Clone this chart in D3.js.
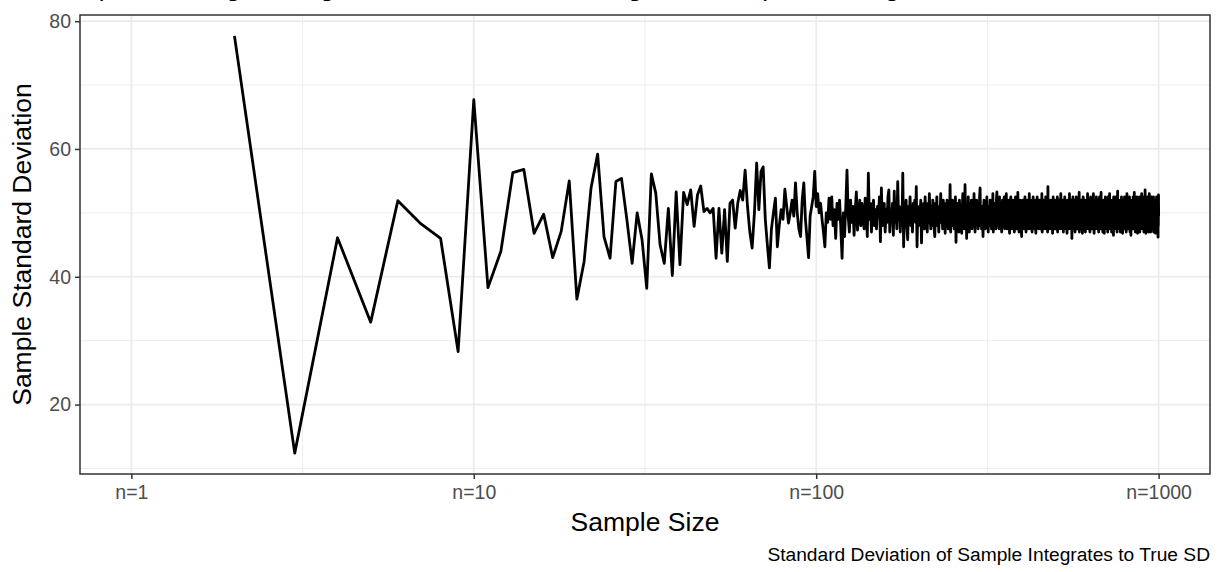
<!DOCTYPE html>
<html>
<head>
<meta charset="utf-8">
<script src="https://cdn.jsdelivr.net/npm/d3@7"></script>
<style>
  html, body { margin: 0; padding: 0; background: #fff; }
  svg { display: block; font-family: "Liberation Sans", Arial, Helvetica, sans-serif; }
</style>
</head>
<body>
<div id="chart"></div>
<script>
// Sample SD for n = 2 .. 1000
const sdValues = [
  77.7, 12.4, 46.1, 32.9, 51.9, 48.3, 46.0, 28.3, 67.7,
  38.3, 44.0, 56.3, 56.8, 46.8, 49.8, 43.0, 47.1, 55.0, 36.5,
  42.4, 53.9, 59.2, 46.3, 42.9, 54.9, 55.4, 48.9, 42.1, 50.0,
  45.8, 38.2, 56.1, 53.1, 45.0, 42.1, 50.7, 40.2, 53.3, 41.9,
  53.2, 51.3, 53.6, 47.9, 52.8, 54.2, 50.2, 50.7, 50.0, 50.7,
  42.9, 50.7, 43.7, 50.5, 42.4, 51.5, 52.0, 47.6, 51.5, 53.5,
  52.0, 56.7, 51.0, 47.0, 44.5, 50.0, 57.8, 50.5, 56.5, 57.2,
  49.0, 45.0, 41.4, 47.5, 50.0, 52.3, 44.7, 48.0, 50.5, 49.0,
  53.7, 51.0, 48.4, 50.0, 52.0, 49.5, 54.7, 50.0, 47.5, 46.3,
  52.0, 54.7, 49.0, 46.0, 43.0, 49.5, 51.0, 52.5, 56.5, 51.0,
  53.0, 50.0, 51.5, 49.0, 47.0, 44.7, 50.0, 48.5, 52.3, 49.0,
  52.5, 48.0, 50.5, 46.0, 51.5, 49.0, 52.0, 47.5, 42.9, 50.0,
  46.3, 51.0, 56.7, 49.5, 47.0, 52.0, 48.5, 51.0, 46.5, 50.5,
  53.3, 47.3, 50.0, 52.0, 48.0, 51.5, 49.0, 47.5, 52.3, 50.0,
  46.3, 56.2, 49.0, 51.5, 47.0, 50.5, 52.0, 48.0, 50.5, 47.5,
  51.0, 49.5, 52.5, 45.5, 53.9, 48.0, 50.0, 51.5, 47.0, 50.5,
  48.5, 52.5, 53.6, 47.0, 50.0, 49.0, 51.5, 46.5, 53.4, 48.5,
  50.5, 47.5, 54.9, 49.0, 51.0, 47.0, 50.5, 48.0, 56.2, 44.7,
  51.5, 49.0, 52.0, 47.5, 45.8, 51.0, 49.5, 52.5, 48.0, 50.0,
  47.0, 51.5, 49.0, 52.0, 48.5, 54.1, 44.7, 50.5, 48.0, 51.0,
  49.5, 52.0, 45.3, 50.5, 48.0, 51.5, 47.5, 52.5, 49.0, 50.5,
  47.0, 51.5, 48.5, 53.0, 49.5, 47.5, 51.0, 48.0, 52.0, 50.0,
  47.5, 46.3, 51.5, 49.0, 52.5, 48.0, 50.5, 47.0, 51.0, 49.5,
  53.0, 48.5, 50.0, 47.5, 52.0, 49.0, 51.5, 46.8, 50.5, 48.0,
  52.0, 49.5, 47.5, 51.0, 48.5, 54.4, 47.0, 50.5, 49.0, 52.0,
  48.0, 51.0, 47.5, 50.0, 52.5, 45.4, 50.5, 48.5, 51.5, 49.0,
  47.0, 52.0, 49.5, 48.0, 51.0, 46.8, 50.5, 53.0, 48.5, 50.0,
  47.5, 54.4, 49.0, 51.0, 46.0, 50.5, 48.0, 52.5, 49.5, 47.0,
  51.5, 48.5, 50.0, 52.0, 47.5, 49.5, 51.0, 48.0, 53.0, 49.0,
  47.0, 50.5, 48.5, 52.0, 49.0, 51.5, 47.5, 50.0, 48.0, 52.5,
  53.9, 48.5, 50.5, 47.5, 51.0, 49.0, 46.3, 50.5, 52.0, 48.0,
  50.0, 47.5, 51.5, 49.0, 52.5, 48.0, 50.5, 47.0, 51.0, 49.5,
  48.0, 52.0, 49.0, 50.5, 47.5, 51.5, 48.5, 53.0, 47.0, 50.0,
  49.0, 51.5, 48.0, 50.5, 47.5, 52.0, 53.3, 48.0, 50.5, 49.0,
  51.0, 47.5, 52.5, 48.5, 50.0, 49.0, 51.5, 47.0, 50.5, 52.0,
  48.0, 50.5, 49.5, 52.5, 47.5, 51.0, 48.5, 50.0, 53.0, 49.0,
  47.5, 51.5, 48.0, 50.5, 52.0, 49.0, 46.8, 51.0, 49.5, 52.5,
  48.5, 50.0, 47.5, 51.5, 49.0, 52.0, 48.0, 50.5, 47.0, 51.0,
  49.5, 52.5, 48.0, 50.0, 47.5, 51.5, 49.0, 53.2, 48.5, 50.5,
  47.0, 51.0, 49.5, 52.0, 48.0, 50.5, 47.5, 46.3, 51.5, 49.0,
  52.0, 48.5, 50.5, 47.5, 51.0, 49.0, 52.5, 48.0, 50.0, 47.0,
  51.5, 49.5, 48.0, 52.0, 50.5, 47.5, 51.0, 48.5, 53.0, 49.0,
  47.5, 50.5, 52.0, 48.0, 49.5, 51.5, 47.0, 50.0, 48.5, 52.5,
  49.0, 51.0, 47.5, 50.5, 48.0, 52.0, 49.5, 46.8, 51.5, 48.5,
  50.0, 52.5, 48.0, 49.5, 51.0, 47.5, 50.5, 48.5, 52.0, 49.0,
  47.5, 51.5, 49.0, 50.5, 48.0, 53.0, 47.0, 50.0, 51.5, 48.5,
  52.0, 49.5, 47.5, 51.0, 48.5, 50.5, 49.0, 52.5, 47.5, 50.0,
  48.5, 51.5, 49.0, 47.0, 54.1, 48.0, 50.5, 52.0, 49.5, 47.5,
  51.0, 48.5, 50.0, 52.0, 47.5, 49.5, 51.5, 48.0, 50.5, 46.8,
  49.0, 52.5, 48.5, 50.0, 51.0, 47.5, 49.5, 52.0, 48.0, 50.5,
  47.5, 51.5, 49.0, 50.0, 48.5, 52.5, 47.0, 51.0, 49.5, 48.0,
  50.5, 52.0, 48.0, 49.5, 51.5, 47.5, 50.0, 53.0, 48.5, 49.0,
  51.0, 47.5, 50.5, 48.5, 52.0, 49.0, 47.0, 51.5, 48.0, 50.5,
  49.5, 52.5, 48.0, 50.0, 47.5, 51.0, 49.0, 51.5, 48.5, 46.8,
  50.0, 52.0, 49.0, 48.0, 51.5, 47.5, 50.5, 49.5, 53.0, 48.0,
  51.0, 47.5, 50.0, 49.0, 52.0, 48.5, 50.5, 46.0, 51.5, 49.0,
  48.0, 52.5, 49.5, 50.5, 47.5, 51.0, 48.5, 50.0, 52.0, 47.0,
  49.5, 51.5, 48.0, 50.0, 52.5, 47.5, 50.5, 49.0, 51.0, 48.5,
  47.5, 52.0, 49.0, 50.5, 48.0, 53.2, 47.0, 50.0, 49.5, 51.5,
  48.5, 50.0, 47.5, 52.0, 49.0, 51.0, 48.0, 50.5, 46.8, 51.5,
  49.5, 52.5, 48.0, 50.0, 47.5, 51.0, 49.0, 52.0, 48.5, 50.5,
  47.0, 51.5, 49.5, 48.0, 52.0, 50.0, 47.5, 51.0, 49.0, 53.0,
  48.5, 50.5, 47.5, 51.5, 49.0, 52.0, 48.0, 50.0, 49.5, 47.0,
  51.0, 48.5, 52.5, 49.0, 50.5, 47.5, 51.5, 48.0, 50.0, 52.0,
  49.0, 47.5, 51.0, 48.5, 53.0, 49.5, 50.5, 46.8, 51.5, 48.0,
  50.0, 52.0, 49.0, 47.5, 51.0, 48.5, 50.5, 52.5, 48.0, 49.5,
  51.5, 47.5, 50.0, 49.0, 52.0, 48.0, 50.5, 47.0, 51.0, 49.5,
  48.5, 52.5, 49.0, 50.0, 47.5, 51.5, 48.0, 50.5, 53.2, 49.0,
  47.5, 51.0, 48.5, 50.0, 52.0, 49.0, 47.0, 51.5, 48.0, 50.5,
  49.5, 52.0, 48.5, 46.8, 51.0, 49.0, 50.5, 47.5, 52.5, 48.0,
  50.0, 51.5, 49.0, 47.5, 52.0, 48.5, 50.5, 49.5, 51.0, 47.0,
  48.5, 52.5, 49.0, 50.0, 48.0, 51.5, 47.5, 50.5, 53.0, 49.0,
  51.0, 48.0, 50.0, 47.5, 52.0, 49.5, 48.5, 51.5, 47.0, 50.5,
  49.0, 52.0, 48.0, 50.5, 47.5, 51.0, 49.5, 46.5, 52.5, 48.5,
  50.0, 51.5, 49.0, 47.5, 52.0, 48.0, 50.5, 49.0, 51.0, 47.5,
  52.5, 48.5, 50.0, 49.5, 51.5, 47.0, 50.5, 48.0, 53.4, 49.0,
  47.5, 51.0, 49.0, 50.5, 48.0, 52.0, 47.5, 50.0, 49.5, 51.5,
  48.5, 50.5, 47.0, 52.0, 49.0, 51.0, 48.0, 50.0, 52.5, 47.5,
  49.5, 51.5, 48.5, 50.0, 46.8, 51.0, 49.0, 52.0, 48.0, 50.5,
  47.5, 51.5, 49.5, 48.0, 52.5, 50.0, 47.5, 51.0, 48.5, 49.5,
  52.0, 48.0, 50.5, 47.0, 51.5, 49.0, 50.0, 53.0, 48.5, 49.5,
  51.0, 47.5, 50.5, 48.5, 52.0, 49.0, 47.5, 51.5, 48.0, 50.0,
  49.5, 52.5, 48.0, 50.5, 47.0, 51.0, 49.0, 52.0, 48.5, 46.5,
  50.0, 51.5, 49.0, 47.5, 52.0, 48.5, 50.5, 49.5, 51.0, 48.0,
  47.5, 52.5, 49.0, 50.0, 48.0, 51.5, 47.5, 50.5, 53.2, 49.0,
  51.0, 48.0, 50.0, 49.5, 47.0, 52.0, 48.5, 50.5, 49.0, 51.5,
  48.0, 50.0, 47.5, 52.5, 49.0, 51.0, 48.5, 46.8, 51.5, 49.5,
  50.5, 52.0, 48.0, 49.0, 51.0, 47.5, 50.0, 48.5, 52.5, 49.5,
  47.0, 51.5, 49.0, 50.5, 48.0, 52.0, 47.5, 50.0, 49.5, 51.0,
  48.5, 53.0, 49.0, 47.5, 51.5, 48.0, 50.5, 49.5, 52.0, 47.5,
  50.0, 51.0, 48.5, 49.5, 52.5, 47.0, 50.5, 48.0, 51.5, 49.0,
  47.5, 52.0, 53.6, 48.5, 50.0, 49.0, 51.0, 46.8, 50.5, 48.0,
  52.0, 49.5, 47.5, 51.0, 48.5, 50.0, 52.5, 49.0, 47.5, 51.5,
  48.0, 50.5, 49.0, 52.0, 47.0, 51.0, 48.5, 50.0, 53.0, 49.5,
  47.5, 51.5, 48.0, 50.5, 49.5, 52.0, 48.5, 47.0, 51.0, 49.0,
  50.5, 52.5, 48.0, 49.5, 51.0, 47.5, 50.0, 48.5, 52.0, 49.0,
  47.5, 51.5, 49.0, 50.0, 48.0, 52.5, 47.0, 50.5, 49.5, 51.0,
  48.5, 50.0, 52.0, 47.5, 49.0, 51.5, 48.0, 50.5, 46.8, 52.0,
  49.5, 48.0, 51.0, 47.5, 50.5, 52.5, 48.5, 49.0, 51.5, 47.0,
  50.0, 52.0, 48.5, 49.5, 51.0, 46.2, 50.5, 48.0, 52.8, 49.5
];
const sampleSizes = d3.range(2, 2 + sdValues.length);

const xTicks = [1, 10, 100, 1000];
const xTickLabels = ["n=1", "n=10", "n=100", "n=1000"];
const xMinorTicks = [Math.sqrt(10), Math.sqrt(1000), Math.sqrt(100000)];
const yTicks = [20, 40, 60, 80];
const yMinorTicks = [10, 30, 50, 70];

const titleText = "Upon drawing the larger sets the SD tends to a given true spread along";
const xTitle = "Sample Size";
const yTitle = "Sample Standard Deviation";
const captionText = "Standard Deviation of Sample Integrates to True SD";

const width = 1220, height = 572;
const panel = { left: 80, right: 1210, top: 15, bottom: 474 };
const FONT = '"Liberation Sans", Arial, Helvetica, sans-serif';

const svg = d3.select('#chart')
  .append('svg')
  .attr('width', width)
  .attr('height', height);

// log x with ggplot-like 5% expansion
const lx0 = Math.log10(1), lx1 = Math.log10(1000);
const lpad = (lx1 - lx0) * 0.05;
const x = d3.scaleLog()
  .domain([Math.pow(10, lx0 - lpad), Math.pow(10, lx1 + lpad)])
  .range([panel.left, panel.right]);

const [ymin, ymax] = d3.extent(sdValues);
const ypad = (ymax - ymin) * 0.05;
const y = d3.scaleLinear()
  .domain([ymin - ypad, ymax + ypad])
  .range([panel.bottom, panel.top]);

// Grid
const grid = svg.append('g');
grid.selectAll('.xminor').data(xMinorTicks).enter().append('line')
  .attr('x1', d => x(d)).attr('x2', d => x(d))
  .attr('y1', panel.top).attr('y2', panel.bottom)
  .attr('stroke', '#EBEBEB').attr('stroke-width', 0.9);
grid.selectAll('.yminor').data(yMinorTicks).enter().append('line')
  .attr('x1', panel.left).attr('x2', panel.right)
  .attr('y1', d => y(d)).attr('y2', d => y(d))
  .attr('stroke', '#EBEBEB').attr('stroke-width', 0.9);
grid.selectAll('.xmajor').data(xTicks).enter().append('line')
  .attr('x1', d => x(d)).attr('x2', d => x(d))
  .attr('y1', panel.top).attr('y2', panel.bottom)
  .attr('stroke', '#EBEBEB').attr('stroke-width', 1.7);
grid.selectAll('.ymajor').data(yTicks).enter().append('line')
  .attr('x1', panel.left).attr('x2', panel.right)
  .attr('y1', d => y(d)).attr('y2', d => y(d))
  .attr('stroke', '#EBEBEB').attr('stroke-width', 1.7);

// Line
const points = sampleSizes.map((n, i) => [n, sdValues[i]]);
svg.append('path')
  .datum(points)
  .attr('fill', 'none')
  .attr('stroke', '#000')
  .attr('stroke-width', 2.8)
  .attr('stroke-linejoin', 'round')
  .attr('d', d3.line().x(d => x(d[0])).y(d => y(d[1])));

// Panel border
svg.append('rect')
  .attr('x', panel.left).attr('y', panel.top)
  .attr('width', panel.right - panel.left)
  .attr('height', panel.bottom - panel.top)
  .attr('fill', 'none').attr('stroke', '#333333').attr('stroke-width', 1.5);

// Axes
const xAxis = d3.axisBottom(x)
  .tickValues(xTicks)
  .tickFormat((d, i) => xTickLabels[i])
  .tickSizeOuter(0).tickSizeInner(5).tickPadding(6);
const gx = svg.append('g')
  .attr('transform', `translate(0,${panel.bottom})`)
  .call(xAxis);

const yAxis = d3.axisLeft(y)
  .tickValues(yTicks)
  .tickFormat(d3.format('d'))
  .tickSizeOuter(0).tickSizeInner(5).tickPadding(4);
const gy = svg.append('g')
  .attr('transform', `translate(${panel.left},0)`)
  .call(yAxis);

[gx, gy].forEach(g => {
  g.select('.domain').remove();
  g.selectAll('.tick line').attr('stroke', '#333333').attr('stroke-width', 1.5);
  g.selectAll('.tick text')
    .attr('fill', '#4D4D4D')
    .style('font-size', '19.5px')
    .style('font-family', FONT);
});

// Titles
svg.append('text')
  .attr('x', (panel.left + panel.right) / 2)
  .attr('y', 531)
  .attr('text-anchor', 'middle')
  .style('font-size', '26.5px')
  .attr('fill', '#000')
  .text(xTitle);

svg.append('text')
  .attr('transform', `translate(31,${(panel.top + panel.bottom) / 2}) rotate(-90)`)
  .attr('text-anchor', 'middle')
  .style('font-size', '26.5px')
  .attr('fill', '#000')
  .text(yTitle);

svg.append('text')
  .attr('x', panel.right)
  .attr('y', 561)
  .attr('text-anchor', 'end')
  .style('font-size', '19.2px')
  .attr('fill', '#000')
  .text(captionText);

// Title sits mostly above the canvas, only descenders show
svg.append('text')
  .attr('x', panel.left)
  .attr('y', -4)
  .style('font-size', '26px')
  .attr('fill', '#000')
  .text(titleText);
</script>
</body>
</html>
